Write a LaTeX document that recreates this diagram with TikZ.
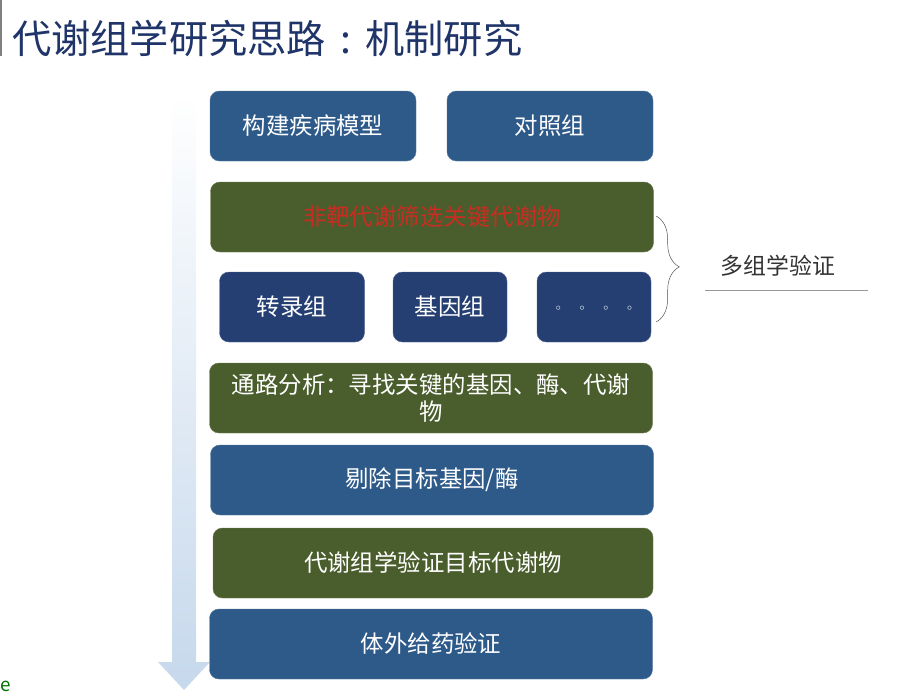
\documentclass[tikz,border=0pt]{standalone}
\usepackage{fontspec}
\setmainfont{Noto Sans CJK SC}
\usetikzlibrary{positioning,decorations.pathreplacing}

\definecolor{stepblue}{HTML}{2E5A8A}
\definecolor{omicsblue}{HTML}{253F73}
\definecolor{stepgreen}{HTML}{4A5D2C}
\definecolor{titleblue}{HTML}{1F3469}
\definecolor{flowshaft}{HTML}{C6D8EC}

\begin{document}
\begin{tikzpicture}[
      x=0.03cm, y=-0.03cm,
      every node/.style={font=\fontsize{20}{25}\selectfont, text=white},
      bluebox/.style={draw=stepblue!80!white, fill=stepblue, rounded corners=8pt,
        minimum width=443*0.03cm, minimum height=70*0.03cm, inner sep=0pt},
      greenbox/.style={bluebox, draw=stepgreen!80!white, fill=stepgreen},
      halfbox/.style={bluebox, minimum width=206*0.03cm},
      omicsbox/.style={bluebox, draw=omicsblue!80!white, fill=omicsblue,
        minimum width=114*0.03cm}
    ]
    \useasboundingbox (0,0) rectangle (922,698);

    % Title
    \draw[gray, line width=1pt] (1,0) -- (1,56);
    \node[anchor=west, text=titleblue, font=\fontsize{33.5}{38}\selectfont] (title) at (8,38)
      {代谢组学研究思路\makebox[1em][c]{:}机制研究};

    % Flow arrow
    \shade[top color=white, bottom color=flowshaft]
      (172,92) -- (196,92) -- (196,662) -- (210,662) -- (184,690)
      -- (158,662) -- (172,662) -- cycle;

    % Top row
    \node[halfbox] (model) at (313,126) {构建疾病模型};
    \node[halfbox] (control) at (550,126) {对照组};

    % Screening
    \node[greenbox, text={rgb,255:red,200;green,45;blue,35}] (screen) at (432,217) {非靶代谢筛选关键代谢物};

    % Omics
    \node[omicsbox, minimum width=145*0.03cm] (trans) at (292,307) {转录组};
    \node[omicsbox] (genome) at (450,307) {基因组};
    \node[omicsbox, font=\fontsize{8}{10}\selectfont] (more) at (594,307)
      {\raisebox{-6pt}{$\circ$\hspace{16pt}$\circ$\hspace{16pt}$\circ$\hspace{16pt}$\circ$}};

    % Steps
    \node[greenbox, align=center, font=\fontsize{20}{23}\selectfont] (pathway) at (431,398) {通路分析：寻找关键的基因、酶、代谢\\物};
    \node[bluebox] (knockout) at (432,480) {剔除目标基因/酶};
    \node[greenbox, minimum width=440*0.03cm] (verify) at (433,563) {代谢组学验证目标代谢物};
    \node[bluebox] (invitro) at (431,644) {体外给药验证};

    % Multi-omics brace
    \coordinate (bracetop) at (656,216);
    \coordinate (bracebot) at (656,322);
    \draw[black!70, decorate, decoration={brace, amplitude=0.7cm, aspect=0.48}] (bracetop) -- (bracebot);
    \node[text=black!80, font=\fontsize{19.5}{22}\selectfont] (multi) at (778,266) {多组学验证};
    \draw[gray!80, line width=0.8pt] (705,290) -- (868,290);

    % Logo fragment
    \node[anchor=west, text=green!45!black, font=\fontsize{16}{18}\selectfont, inner sep=0pt] (logo) at (0,686) {e};
\end{tikzpicture}
\end{document}
